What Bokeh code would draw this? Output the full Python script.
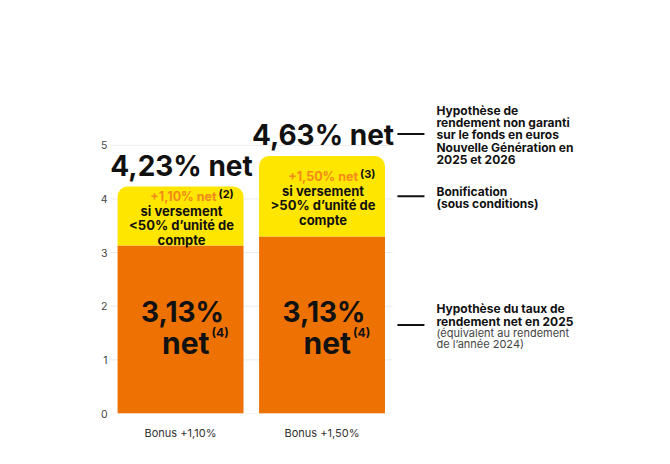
from bokeh.plotting import figure
from bokeh.models import Range1d, FixedTicker
from bokeh.embed import file_html
from bokeh.resources import INLINE
from bokeh.core.properties import value

# ---------------- data ----------------
categories = ["Bonus +1,10%", "Bonus +1,50%"]
base_rate = [3.13, 3.30]          # orange part (as drawn)
bonus = [1.10, 1.50]              # yellow part (as drawn)
total_labels = ["4,23% net", "4,63% net"]
base_labels = ["3,13%", "3,13%"]
base_suffix = ["net", "net"]
base_notes = ["(4)", "(4)"]
bonus_labels = ["+1,10% net", "+1,50% net"]
bonus_notes = ["(2)", "(3)"]
cond_line1 = ["si versement", "si versement"]
cond_line2 = ["<50% d\u2019unit\u00e9 de", ">50% d\u2019unit\u00e9 de"]
cond_line3 = ["compte", "compte"]
y_ticks = [0, 1, 2, 3, 4, 5]

legend_total = ["Hypoth\u00e8se de", "rendement non garanti", "sur le fonds en euros",
                "Nouvelle G\u00e9n\u00e9ration en", "2025 et 2026"]
legend_bonus = ["Bonification", "(sous conditions)"]
legend_base = ["Hypoth\u00e8se du taux de", "rendement net en 2025"]
legend_base_note = ["(\u00e9quivalent au rendement", "de l\u2019ann\u00e9e 2024)"]

# ---------------- derived ----------------
xs = list(range(len(categories)))
totals = [b + s for b, s in zip(base_rate, bonus)]
bonus_mid = [b + s / 2 for b, s in zip(base_rate, bonus)]
zeros = [0 for _ in xs]

ORANGE = "#EE7203"
YELLOW = "#FFE600"
ORANGE_TXT = "#F28A1C"
INK = "#111111"
FONT = value("Inter")

Y_END = 7.55
FRAME_H = 405
PX = FRAME_H / Y_END

p = figure(width=654, height=448,
           x_range=Range1d(-0.495, 3.35), y_range=Range1d(0, Y_END),
           output_backend="svg", toolbar_location=None,
           min_border_left=110, min_border_right=0,
           min_border_top=8, min_border_bottom=35)
p.outline_line_color = None
p.xgrid.visible = False
p.ygrid.visible = False

# grid lines
p.segment(x0=-0.5, x1=1.5, y0=y_ticks, y1=y_ticks, line_color="#ebebeb", line_width=1)

BW = 0.89
p.vbar(x=xs, width=BW, bottom=0, top=base_rate, fill_color=ORANGE, line_color=None)
p.vbar(x=xs, width=BW, bottom=base_rate, top=totals, fill_color=YELLOW, line_color=None,
       border_radius=(10, 10, 0, 0))

# axes
p.yaxis.ticker = FixedTicker(ticks=y_ticks)
p.yaxis.axis_line_color = None
p.yaxis.major_tick_line_color = None
p.yaxis.major_tick_out = 0
p.yaxis.major_tick_in = 0
p.yaxis.minor_tick_line_color = None
p.yaxis.major_label_standoff = 3
p.yaxis.major_label_text_font = "Inter"
p.yaxis.major_label_text_font_size = "10.5px"
p.yaxis.major_label_text_color = "#444444"

p.xaxis.ticker = FixedTicker(ticks=xs)
p.xaxis.major_label_overrides = {i: c for i, c in zip(xs, categories)}
p.xaxis.axis_line_color = None
p.xaxis.major_tick_line_color = None
p.xaxis.major_tick_out = 0
p.xaxis.major_tick_in = 0
p.xaxis.minor_tick_line_color = None
p.xaxis.major_label_standoff = 12
p.xaxis.major_label_text_font = "Inter"
p.xaxis.major_label_text_font_size = "11px"
p.xaxis.major_label_text_color = "#333333"

# total labels above bars
p.text(x=xs, y=totals, text=total_labels, x_offset=1, y_offset=-21,
       text_align="center", text_baseline="middle", text_font=FONT,
       text_font_style="bold", text_font_size="28px", text_color=INK)

# bonus texts (yellow part)
p.text(x=xs, y=bonus_mid, text=bonus_labels, x_offset=36, y_offset=-20,
       text_align="right", text_baseline="middle", text_font=FONT,
       text_font_style="bold", text_font_size="12.5px", text_color=ORANGE_TXT)
p.text(x=xs, y=bonus_mid, text=bonus_notes, x_offset=38, y_offset=-22,
       text_align="left", text_baseline="middle", text_font=FONT,
       text_font_style="bold", text_font_size="11px", text_color=INK)
for lines, off in ((cond_line1, -5.5), (cond_line2, 9), (cond_line3, 23.5)):
    p.text(x=xs, y=bonus_mid, text=lines, x_offset=1, y_offset=off,
           text_align="center", text_baseline="middle", text_font=FONT,
           text_font_style="bold", text_font_size="13px", text_color=INK)

# base texts (orange part)
p.text(x=xs, y=zeros, text=base_labels, x_offset=2, y_offset=-102,
       text_align="center", text_baseline="middle", text_font=FONT,
       text_font_style="bold", text_font_size="28px", text_color=INK)
p.text(x=xs, y=zeros, text=base_suffix, x_offset=29, y_offset=-71,
       text_align="right", text_baseline="middle", text_font=FONT,
       text_font_style="bold", text_font_size="30px", text_color=INK)
p.text(x=xs, y=zeros, text=base_notes, x_offset=31, y_offset=-81,
       text_align="left", text_baseline="middle", text_font=FONT,
       text_font_style="bold", text_font_size="12px", text_color=INK)

# right-hand legend with connector dashes
anchors = [totals[1] + 22 / PX, bonus_mid[1], base_rate[1] / 2]
p.segment(x0=1.533, x1=1.724, y0=anchors, y1=anchors, line_color=INK, line_width=2)

LX = 1.809
def block(lines, anchor, offsets, size, style, color):
    p.text(x=[LX] * len(lines), y=[anchor] * len(lines), text=lines,
           y_offset=offsets, text_align="left", text_baseline="middle",
           text_font=FONT, text_font_style=style, text_font_size=size,
           text_color=color)

block(legend_total, anchors[0], [-23.7, -11.2, 0.8, 13.3, 25.3], "12px", "bold", INK)
block(legend_bonus, anchors[1], [-5.1, 7.2], "12px", "bold", INK)
block(legend_base, anchors[2], [-16, -3.5], "12px", "bold", INK)
block(legend_base_note, anchors[2], [8.5, 19.5], "11px", "normal", "#444444")

open("out.html", "w").write(file_html(p, INLINE))
